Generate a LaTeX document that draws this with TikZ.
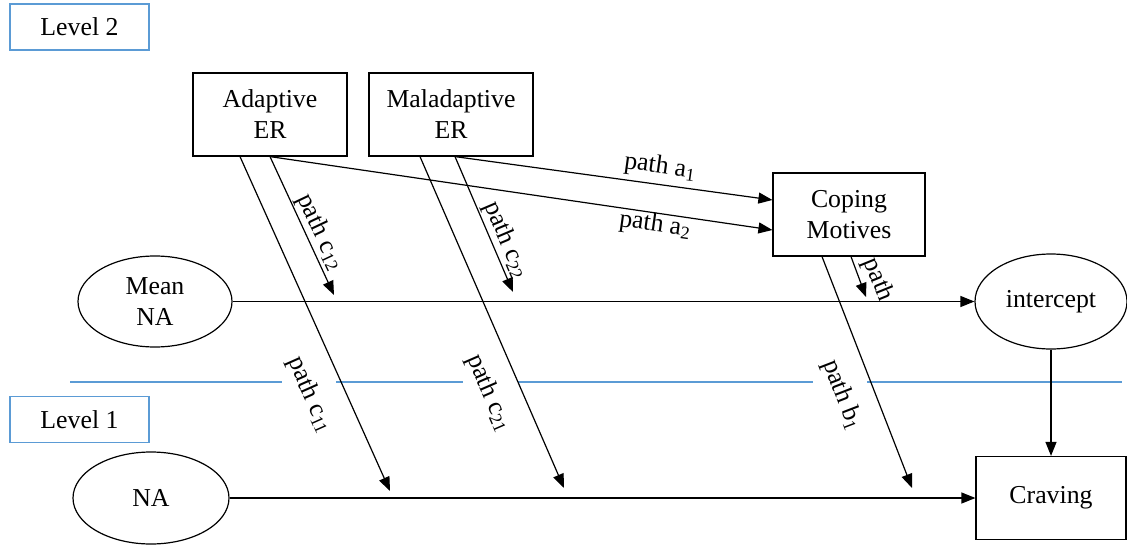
\documentclass[tikz,border=0pt]{standalone}
\usepackage{fontspec}
\setmainfont{Liberation Serif}
\usetikzlibrary{arrows.meta,calc,shapes.geometric}
\definecolor{lvlblue}{RGB}{91,155,213}
\tikzset{
  boxnode/.style={draw=black,line width=1.2pt,rectangle,inner sep=0pt,align=center,font=\fontsize{25.8}{31}\selectfont},
  ellnode/.style={draw=black,line width=1.2pt,ellipse,inner sep=0pt,align=center,font=\fontsize{25.8}{31}\selectfont},
  lvlbox/.style={draw=lvlblue,line width=1.4pt,rectangle,inner sep=0pt,minimum width=139pt,minimum height=46pt,font=\fontsize{25.8}{31}\selectfont},
  lbl/.style={inner sep=0pt,font=\fontsize{25.8}{31}\selectfont},
  conn/.style={draw=black,line width=1.2pt,-{Triangle[length=14pt,width=11pt]}},
  sepline/.style={draw=lvlblue,line width=1.4pt}
}
\begin{document}
\begin{tikzpicture}[x=1pt,y=-1pt]
\useasboundingbox (0,0) rectangle (1127,546);
% level boxes
\node[lvlbox] (l2) at (79.5,27) {Level 2};
\node[lvlbox] (l1) at (79.5,419.5) {Level 1};
% separator line
\draw[sepline] (70,382) -- (282,382);
\draw[sepline] (336,382) -- (463,382);
\draw[sepline] (518,382) -- (813,382);
\draw[sepline] (867,382) -- (1122,382);
% nodes
\node[boxnode,minimum width=154pt,minimum height=83pt] (ad) at (270,114.5) {Adaptive\\ER};
\node[boxnode,minimum width=164pt,minimum height=83pt] (ma) at (451,114.5) {Maladaptive\\ER};
\node[boxnode,minimum width=152pt,minimum height=83pt] (cm) at (849,214.5) {Coping\\Motives};
\node[ellnode,minimum width=152pt,minimum height=95pt] (ic) at (1051,301.5) {intercept};
\node[boxnode,minimum width=150pt,minimum height=83pt] (cr) at (1051,498) {Craving};
\node[ellnode,minimum width=154pt,minimum height=91pt] (mn) at (155,301.5) {Mean\\NA};
\node[ellnode,minimum width=156pt,minimum height=92pt] (na) at (151,498) {NA};
% target coordinates
\coordinate (t12) at (334,295);
\coordinate (t22) at (513,292);
\coordinate (tp) at (866,297);
\coordinate (t11) at (390,491);
\coordinate (t21) at (564,488);
\coordinate (tb1) at (912,488);
% connectors
\draw[conn] (mn.east) -- (ic.west);
\draw[conn] (na.east) -- (cr.west);
\draw[conn] (ic.south) -- (cr.north);
\draw[conn] ([xshift=4pt]ma.south) -- ([yshift=14.5pt]cm.west);
\draw[conn] (ad.south) -- ([yshift=-15.5pt]cm.west);
\draw[conn] (ad.south) -- (t12);
\draw[conn] ([xshift=4pt]ma.south) -- (t22);
\draw[conn] ([xshift=-30pt]ad.south) -- (t11);
\draw[conn] ([xshift=-31pt]ma.south) -- (t21);
\draw[conn] ([xshift=-27pt]cm.south) -- (tb1);
\draw[conn] ([xshift=2pt]cm.south) -- (tp);
% labels
\node[lbl,rotate=-8] (la1) at (660,167) {path a\textsubscript{1}};
\node[lbl,rotate=-8] (la2) at (655,225) {path a\textsubscript{2}};
\node[lbl,rotate=-64.6] (lc12) at (320,232) {path c\textsubscript{12}};
\node[lbl,rotate=-67] (lc22) at (506,240) {path c\textsubscript{22}};
\node[lbl,rotate=-66] (lc11) at (310,395) {path c\textsubscript{11}};
\node[lbl,rotate=-66.5] (lc21) at (489,393) {path c\textsubscript{21}};
\node[lbl,rotate=-69] (lb1) at (842,395) {path b\textsubscript{1}};
\node[lbl,rotate=-68] (lp) at (878,280) {path};
\end{tikzpicture}
\end{document}
